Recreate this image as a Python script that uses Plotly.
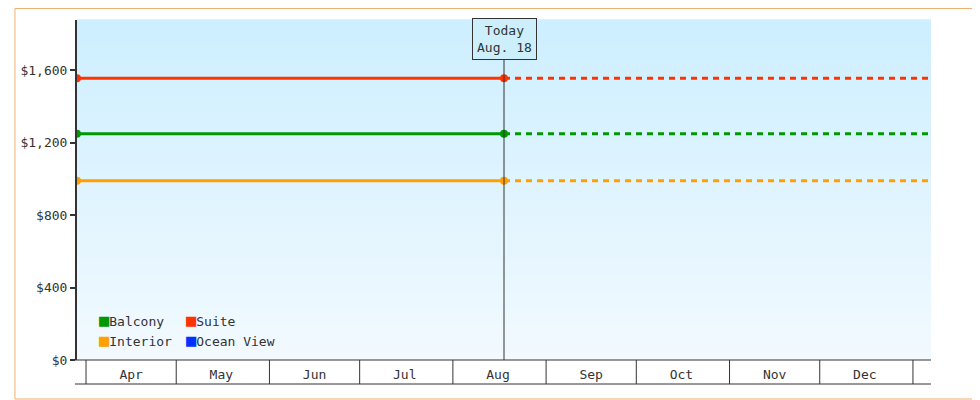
import plotly.graph_objects as go

# price history per cabin type (start of window and "today")
dates = ["2024-03-29", "2024-08-18"]
future_end = "2025-01-07"
balcony = [1250, 1250]
suite = [1556, 1556]
interior = [990, 990]
ocean_view = []

series = [("Balcony", balcony, "#009900"), ("Suite", suite, "#ff3300"),
          ("Interior", interior, "#ffa000"), ("Ocean View", ocean_view, "#0033ff")]

months = ["Apr", "May", "Jun", "Jul", "Aug", "Sep", "Oct", "Nov", "Dec"]
month_starts = ["2024-04-01", "2024-05-01", "2024-06-01", "2024-07-01", "2024-08-01",
                "2024-09-01", "2024-10-01", "2024-11-01", "2024-12-01", "2025-01-01"]
month_mids = ["2024-04-16", "2024-05-16", "2024-06-16", "2024-07-16", "2024-08-16",
              "2024-09-16", "2024-10-16", "2024-11-16", "2024-12-16"]
y_ticks = [0, 400, 800, 1200, 1600]
today = "2024-08-18"

# page has an 8px body offset, so shift everything up/left by 8
OFF = 8
W, H = 860, 340
L, T = 71 - OFF, 20 - OFF
font = "DejaVu Sans Mono"

fig = go.Figure()
for name, vals, color in series:
    if not vals:
        continue
    fig.add_trace(go.Scatter(x=dates, y=vals, mode="lines+markers", name=name,
                             line=dict(color=color, width=3),
                             marker=dict(color=color, size=8), showlegend=False))
    fig.add_trace(go.Scatter(x=[dates[-1], future_end], y=[vals[-1], vals[-1]], mode="lines",
                             line=dict(color=color, width=3, dash="6px,5px"), showlegend=False))

shapes = []
# gradient background
n = 40
for i in range(n):
    t = i / n
    r = int(0xcd + (0xf2 - 0xcd) * (1 - t))
    g = int(0xef + (0xfa - 0xef) * (1 - t))
    shapes.append(dict(type="rect", xref="paper", yref="paper", x0=0, x1=1,
                       y0=t, y1=t + 1 / n + 0.002, line_width=0,
                       fillcolor=f"rgb({r},{g},255)", layer="below"))
# outer border
shapes.append(dict(type="rect", xref="paper", yref="paper", x0=-(L - 0.5) / W,
                   x1=(979 - OFF - L) / W, y0=-(399 - 360) / H, y1=(360 - OFF - 0.5) / H + 0 * T,
                   line=dict(color="#f0b070", width=1)))
# month cells
cell_bottom = -24 / H
for d in month_starts:
    shapes.append(dict(type="line", xref="x", yref="paper", x0=d, x1=d, y0=0, y1=cell_bottom,
                       line=dict(color="#333", width=1)))
shapes.append(dict(type="line", xref="paper", yref="paper", x0=-2 / W, x1=1, y0=cell_bottom,
                   y1=cell_bottom, line=dict(color="#333", width=1)))
shapes.append(dict(type="line", xref="paper", yref="paper", x0=-6 / W, x1=1, y0=0, y1=0,
                   line=dict(color="#333", width=1)))
# today marker
shapes.append(dict(type="line", xref="x", yref="paper", x0=today, x1=today, y0=0,
                   y1=(360 - 60) / H, line=dict(color="#333", width=1)))

annotations = [dict(x=today, xref="x", y=(360 - 60) / H, yref="paper", yanchor="bottom",
                    text="Today<br>Aug. 18", showarrow=False, bordercolor="#333", borderwidth=1,
                    borderpad=4, bgcolor="#cdeffc", font=dict(family=font, size=13, color="#333"))]
legend_pos = [(91, 320), (179, 320), (91, 340), (179, 340)]
for (name, vals, color), (px, py) in zip(series, legend_pos):
    annotations.append(dict(x=(px - 71) / W, y=(360 - py) / H, xref="paper", yref="paper",
                            xanchor="left", yanchor="middle", showarrow=False,
                            text=f"<span style='color:{color};font-size:17px'>■</span>{name}",
                            font=dict(family=font, size=13, color="#333")))

fig.update_layout(
    width=980 - OFF, height=400 - OFF,
    margin=dict(l=L, r=980 - 71 - W, t=T, b=400 - 20 - H),
    paper_bgcolor="white", plot_bgcolor="rgba(0,0,0,0)",
    font=dict(family=font, size=13, color="#333"),
    shapes=shapes, annotations=annotations,
    xaxis=dict(type="date", range=["2024-03-29", future_end], tickvals=month_mids,
               ticktext=months, ticks="", showgrid=False, zeroline=False, showline=False,
               ticklabelstandoff=5),
    yaxis=dict(range=[0, 1878], tickvals=y_ticks, ticktext=[f"${v:,}" for v in y_ticks],
               ticks="outside", ticklen=5, tickwidth=2, tickcolor="#333", showgrid=False,
               zeroline=False, showline=True, linecolor="#333", linewidth=2),
)

fig.write_html("out.html")
